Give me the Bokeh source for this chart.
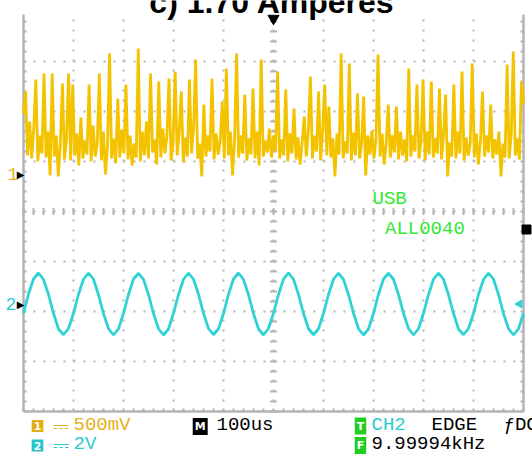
import numpy as np
from bokeh.plotting import figure
from bokeh.models import Label
from bokeh.embed import file_html
from bokeh.resources import INLINE

# ---------------- data ----------------
title_text = "c) 1.70 Amperes"
ch1_scale_v = 0.5        # V/div
ch2_scale_v = 2.0        # V/div
ch1_ground_div = 0.76    # ground marker position (div)
ch2_ground_div = -1.85
trigger_time_us = 0
ch2_trigger_level_v = 0.0
ext_marker_div = -0.36

# CH1 (mV), sampled across the 1 ms screen
ch1_mv = [
    600, 820, 180, 520, 150, 450, 940, 120, 380, 200,
    1000, 160, 420, -20, 1000, 170, 380, -30, 300, 900,
    140, 350, 1000, 130, 890, 180, 400, 80, 560, 150,
    330, 190, 890, 120, 480, 170, 300, 1000, 130, 420,
    -10, 280, 1200, 150, 350, 100, 750, 160, 440, 200,
    890, 140, 380, 80, 300, 160, 1250, 120, 420, 180,
    520, 150, 1000, 210, 340, 90, 920, 160, 450, 200,
    380, 950, 130, 300, 1020, 180, 420, 820, 110, 360,
    170, 940, 200, 450, 1140, 150, 300, -30, 690, 170,
    380, 220, 950, 140, 400, 190, 320, 720, 150, 1050,
    180, 420, -20, 330, 1200, 160, 380, 200, 790, 130,
    350, 190, 850, 150, 420, 80, 1140, 170, 330, 210,
    450, 160, 380, 220, 1020, 150, 340, 180, 840, 120,
    400, 200, 650, 140, 360, 90, 310, 570, 170, 420,
    970, 150, 380, 220, 820, 130, 440, 890, 180, 670,
    160, 350, -30, 400, 190, 1200, 150, 320, 200, 1100,
    130, 410, 180, 800, 150, 300, 770, -20, 380, 190,
    430, 150, 330, 1190, 170, 400, 90, 300, 690, 160,
    380, 210, 670, 140, 420, 180, 340, 120, 1050, 170,
    380, 220, 890, 150, 330, 940, 130, 420, 190, 920,
    160, 350, 200, 850, 140, 400, 790, -30, 310, 170,
    890, 150, 420, 200, 1020, 130, 360, 180, 300, 1100,
    160, 400, 90, 330, 820, 170, 380, 210, 690, 150,
    340, 190, 420, -30, 300, 160, 1090, 150, 380, 1220,
    180, 350, 140, 920, 700,
]

# CH2 (V), one reading every 10 us
ch2_v = [
    -0.36, 0.40, 1.00, 1.24, 0.98, 0.38, -0.38, -1.00, -1.23, -0.98,
    -0.37, 0.39, 0.99, 1.24, 0.99, 0.37, -0.39, -0.99, -1.24, -0.99,
    -0.38, 0.38, 1.00, 1.23, 0.98, 0.38, -0.38, -0.99, -1.24, -1.00,
    -0.37, 0.38, 0.99, 1.24, 0.99, 0.39, -0.38, -0.98, -1.23, -0.99,
    -0.38, 0.39, 1.00, 1.24, 0.98, 0.37, -0.39, -1.00, -1.24, -0.98,
    -0.37, 0.38, 0.99, 1.25, 0.99, 0.38, -0.38, -0.99, -1.23, -0.99,
    -0.38, 0.38, 0.99, 1.24, 0.98, 0.38, -0.37, -0.99, -1.24, -1.00,
    -0.38, 0.39, 1.00, 1.23, 0.99, 0.38, -0.38, -0.98, -1.24, -0.99,
    -0.37, 0.38, 0.99, 1.24, 0.99, 0.37, -0.38, -1.00, -1.23, -0.98,
    -0.38, 0.38, 0.98, 1.24, 0.99, 0.38, -0.39, -0.99, -1.24, -0.99,
    -0.37,
]

ch1_t = np.linspace(-500, 500, len(ch1_mv))
ch2_t = np.linspace(-500, 500, len(ch2_v))

# readout texts
ch1_scale_text = "500mV"
ch2_scale_text = "2V"
time_text = "100us"
trig_src_text = "CH2"
trig_type_text = "EDGE"
trig_slope_text = "ƒDC"
freq_text = "9.99994kHz"
usb_text = "USB"
file_text = "ALL0040"

# screen geometry (10 x 8 divisions, top row cropped)
t_left, t_right = -500, 500
d_bottom, d_top = -4.0, 3.94
us_per_px = 2.0
div_per_px = 1 / 50.0

# ---------------- styling ----------------
GOLD = "#f4c300"
GOLD_TXT = "#e6b020"
CYAN = "#2fd3d6"
CYAN_TXT = "#2ccbd0"
GREEN_TXT = "#33e833"
GREEN_ICON = "#22cc22"
GRAY = "#b4b4b4"
MONO = "Liberation Mono"

W, H = 532, 457
X0, Y0 = 23, 211          # window px of t=-500 and of 0 div
x_start = t_left - X0 * us_per_px
y_end = Y0 * div_per_px
p = figure(width=W, height=H,
           x_range=(x_start, x_start + W * us_per_px),
           y_range=(y_end - H * div_per_px, y_end),
           output_backend="svg", toolbar_location=None,
           x_axis_type=None, y_axis_type=None,
           min_border=0, min_border_left=0, min_border_right=0,
           min_border_top=0, min_border_bottom=0, outline_line_color=None,
           background_fill_color="white", border_fill_color="white")
p.grid.visible = False

# dotted graticule
vx = np.arange(-400, 401, 100)
p.segment(x0=vx, y0=np.full(len(vx), d_bottom), x1=vx, y1=np.full(len(vx), d_top),
          line_color=GRAY, line_width=2, line_dash="2 8")
hy = np.arange(-3, 4)
p.segment(x0=np.full(len(hy), t_left), y0=hy, x1=np.full(len(hy), t_right), y1=hy,
          line_color=GRAY, line_width=2, line_dash="2 8")

# centre cross ticks
cy = np.round(np.arange(-4, 3.95, 0.2), 2)
p.scatter(x=np.zeros_like(cy), y=cy, marker="dash", size=7,
          line_color=GRAY, line_width=2)
cx = np.arange(-500, 501, 20)
p.scatter(x=cx, y=np.zeros(len(cx)), marker="dash", angle=np.pi / 2, size=7,
          line_color=GRAY, line_width=2)

# border lines with inward ticks
p.segment(x0=[t_left, t_right, t_left], y0=[d_bottom, d_bottom, d_bottom],
          x1=[t_left, t_right, t_right], y1=[d_top, d_top, d_bottom],
          line_color=GRAY, line_width=2.5)
tick_len_t = 3 * us_per_px
tick_len_d = 3 * div_per_px
p.segment(x0=np.full(len(cy), t_left), y0=cy, x1=np.full(len(cy), t_left + tick_len_t),
          y1=cy, line_color=GRAY, line_width=2)
p.segment(x0=np.full(len(cy), t_right), y0=cy, x1=np.full(len(cy), t_right - tick_len_t),
          y1=cy, line_color=GRAY, line_width=2)
p.segment(x0=cx, y0=np.full(len(cx), d_bottom), x1=cx,
          y1=np.full(len(cx), d_bottom + tick_len_d), line_color=GRAY, line_width=2)

# traces
p.line(ch2_t, ch2_ground_div + np.array(ch2_v) / ch2_scale_v,
       line_color=CYAN, line_width=2.8)
p.line(ch1_t, ch1_ground_div + np.array(ch1_mv) / 1000.0 / ch1_scale_v,
       line_color=GOLD, line_width=2.8)

# markers
p.scatter([trigger_time_us], [d_top - 4 * div_per_px], marker="inverted_triangle",
          size=11, color="black")
p.scatter([t_right - 4 * us_per_px], [ch2_ground_div + ch2_trigger_level_v / ch2_scale_v],
          marker="triangle", angle=np.pi / 2, size=8, color=CYAN)
p.scatter([t_right + 3 * us_per_px], [ext_marker_div], marker="square",
          size=9, color="black")

SHIFT = 0.33      # baseline shift of svg labels (em)


def lab(text, wx, wy, color, size=19, font=MONO, align="left",
        baseline="alphabetic", style="normal", **kw):
    y = H - wy + (SHIFT * size if baseline == "alphabetic" else 0)
    p.add_layout(Label(text=text, x=wx, y=y, x_units="screen",
                       y_units="screen", text_color=color, text_font=font,
                       text_font_size=f"{size}px", text_align=align,
                       text_baseline=baseline, text_font_style=style, **kw))


def icon(text, wx, wy, bg):
    lab(text, wx, wy, "white", size=11, font="DejaVu Sans", align="center",
        baseline="middle", style="bold", background_fill_color=bg,
        padding=2)


# title (cropped at top like the reference)
lab(title_text, 271.6, 12, "black", size=32, font="Liberation Sans",
    align="center", style="bold")

# channel ground markers
lab("1", 7, 179, GOLD_TXT, size=18)
lab("▶", 20, 173.5, "black", size=10, font="DejaVu Sans", align="center",
    baseline="middle")
lab("2", 5, 309, CYAN_TXT, size=18)
lab("▶", 20, 303.5, "black", size=10, font="DejaVu Sans", align="center",
    baseline="middle")

# on-screen green texts
lab(usb_text, 372, 205, GREEN_TXT)
lab(file_text, 384.5, 235, GREEN_TXT)

# bottom readouts
icon("1", 37, 425.5, "#e6ad12")
lab("⎓", 60, 425, GOLD_TXT, size=20, font="DejaVu Sans", align="center",
    baseline="middle")
lab(ch1_scale_text, 73, 431, GOLD_TXT)
icon("2", 37, 445, "#25c4cc")
lab("⎓", 60, 444, CYAN_TXT, size=20, font="DejaVu Sans", align="center",
    baseline="middle")
lab(ch2_scale_text, 73, 450, CYAN_TXT)

icon("M", 199.7, 426, "black")
lab(time_text, 216, 431, "black")

icon("T", 360, 425.5, GREEN_ICON)
lab(trig_src_text, 371, 431, CYAN_TXT)
lab(trig_type_text, 431, 431, "black")
lab(trig_slope_text, 503, 431, "black")
icon("F", 360, 445, GREEN_ICON)
lab(freq_text, 371, 450, "black")

open("out.html", "w").write(file_html(p, INLINE))
